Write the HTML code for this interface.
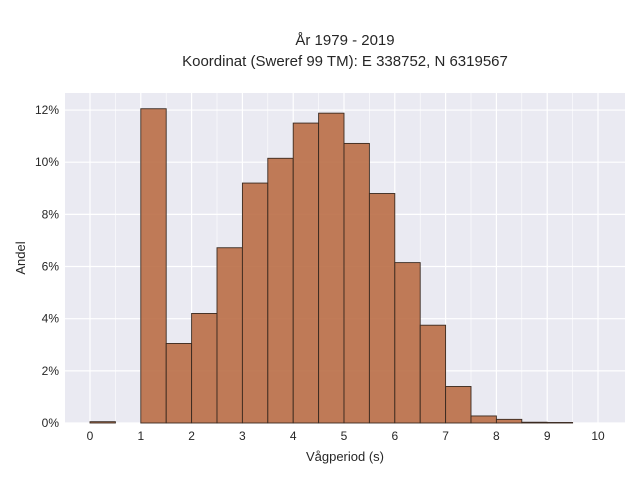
<!DOCTYPE html>
<html><head><meta charset="utf-8"><style>
body{margin:0;background:#fff;}
svg{display:block;font-family:"Liberation Sans",sans-serif;}
</style></head><body>
<svg id="chart" width="640" height="480">
<text x="345" y="45" text-anchor="middle" font-size="15" fill="#262626">År 1979 - 2019</text>
<text x="345" y="66" text-anchor="middle" font-size="15" fill="#262626">Koordinat (Sweref 99 TM): E 338752, N 6319567</text>
<rect x="65" y="93" width="560" height="330" fill="#eaeaf2"/>
<g id="grid"></g><g id="bars"></g><g id="ticks"></g>
<text x="345" y="461" text-anchor="middle" font-size="13" fill="#262626">Vågperiod (s)</text>
<text transform="translate(25,258) rotate(-90)" text-anchor="middle" font-size="13" fill="#262626">Andel</text>
</svg>
<script>
const binStarts=[0,0.5,1,1.5,2,2.5,3,3.5,4,4.5,5,5.5,6,6.5,7,7.5,8,8.5,9,9.5];
const shares=[0.05,0,12.05,3.05,4.2,6.72,9.2,10.15,11.5,11.88,10.72,8.8,6.15,3.75,1.4,0.27,0.14,0.03,0.02,0];
const xTicks=[0,1,2,3,4,5,6,7,8,9,10];
const yTicks=[0,2,4,6,8,10,12];
const binWidth=0.5;
const NS="http://www.w3.org/2000/svg";
const X=v=>90+v*50.8, Y=v=>423-v*26.08;
const grid=document.getElementById('grid'),bars=document.getElementById('bars'),ticks=document.getElementById('ticks');
function mk(tag,attrs,parent){const e=document.createElementNS(NS,tag);for(const k in attrs)e.setAttribute(k,attrs[k]);parent.appendChild(e);return e;}
for(let v=0;v<=10;v+=0.5){
 const l=mk('line',{x1:X(v),x2:X(v),y1:93,y2:423,stroke:'#fff','stroke-width':v%1===0?1.2:0.6},grid);
 
 
}
yTicks.forEach(v=>{
 const l=mk('line',{x1:65,x2:625,y1:Y(v),y2:Y(v),stroke:'#fff','stroke-width':1.2},grid);
 
 
 const t=mk('text',{x:59,y:Y(v)+4,'text-anchor':'end','font-size':12,fill:'#262626'},ticks);
 t.textContent=v+'%';
 
 
});
xTicks.forEach(v=>{
 const t=mk('text',{x:X(v),y:440,'text-anchor':'middle','font-size':12,fill:'#262626'},ticks);
 t.textContent=v;
 
 
});
binStarts.forEach((s,i)=>{
 if(shares[i]<=0)return;
 const r=mk('rect',{x:X(s),y:Y(shares[i]),width:X(s+binWidth)-X(s),height:Y(0)-Y(shares[i]),fill:'#b86a41','fill-opacity':0.88,stroke:'#3a2a20','stroke-width':0.9},bars);
 
 
});
</script>
</body></html>
